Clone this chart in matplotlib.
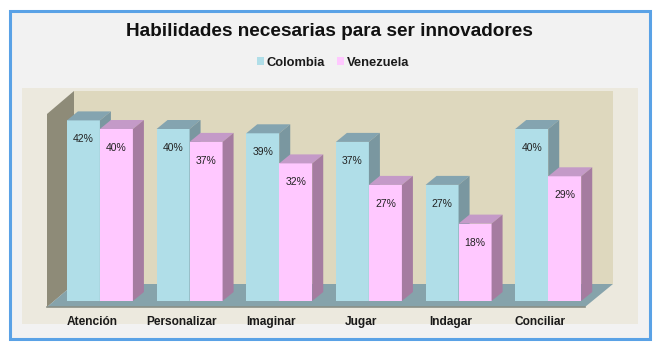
import matplotlib
matplotlib.use('Agg')
import matplotlib.pyplot as plt
from matplotlib.patches import Polygon, Rectangle

plt.rcParams['font.family'] = ['Liberation Sans', 'DejaVu Sans']

categorias = ['Atención', 'Personalizar', 'Imaginar', 'Jugar', 'Indagar', 'Conciliar']
colombia = [42, 40, 39, 37, 27, 40]
venezuela = [40, 37, 32, 27, 18, 29]

W, H = 661, 354
fig = plt.figure(figsize=(W / 100, H / 100), dpi=100, facecolor='white')

# fondo, paneles y paredes en pixeles de la imagen
bg = fig.add_axes([0, 0, 1, 1])
bg.set_xlim(0, W)
bg.set_ylim(H, 0)
bg.axis('off')
bg.add_patch(Rectangle((10, 11), 640, 328, fc='#F2F2F2', ec='#5AA2E6', lw=2.2))
bg.add_patch(Rectangle((22, 88), 616, 236, fc='#ECE9DE', ec='none'))
bg.add_patch(Rectangle((74, 91), 539, 193, fc='#DED8BE', ec='none'))
bg.add_patch(Polygon([(47, 114), (74, 91), (74, 284), (47, 307)], fc='#8E8B78', ec='none'))
bg.add_patch(Polygon([(47, 307), (585, 307), (613, 284), (74, 284)], fc='#86A3AB', ec='none'))
bg.plot([47, 585], [306.5, 306.5], color='#8A8F86', lw=1.2)

# ejes: 4.3 px por punto porcentual, base de las barras en y=301
ax = fig.add_axes([47 / W, (H - 301) / H, 538 / W, 187 / H])
ax.patch.set_alpha(0)
ax.set_xlim(-0.5, 5.5)
ax.set_ylim(0, 187 / 4.3)
for s in ax.spines.values():
    s.set_visible(False)
ax.set_yticks([])
ax.set_xticks(range(len(categorias)))
ax.set_xticklabels(categorias, fontsize=8.6, fontweight='bold', color='#1A1A1A')
ax.tick_params(axis='x', length=0, pad=11)

ancho = 33 / (538 / 6)
dx = 11 / (538 / 6)
dy = 9 / 4.3
desp = 0.09


def barra(x, v, front, top, side, etiqueta):
    r = ax.bar(x, v, ancho, color=front, label=etiqueta, zorder=3)[0]
    x0, x1 = r.get_x(), r.get_x() + r.get_width()
    ax.add_patch(Polygon([(x0, v), (x1, v), (x1 + dx, v + dy), (x0 + dx, v + dy)],
                         fc=top, ec='none', zorder=3, clip_on=False))
    ax.add_patch(Polygon([(x1, 0), (x1 + dx, dy), (x1 + dx, v + dy), (x1, v)],
                         fc=side, ec='none', zorder=3, clip_on=False))
    ax.annotate('%d%%' % v, (x, v), xytext=(0, -13.7), textcoords='offset points',
                ha='center', va='center', fontsize=7.5, color='#222222', zorder=5)


# se dibuja por grupo para que cada barra tape a la anterior
for i in range(len(categorias)):
    barra(i + desp - ancho / 2, colombia[i], '#B0DEE8', '#84A4B0', '#7A97A0',
          'Colombia' if i == 0 else None)
    barra(i + desp + ancho / 2, venezuela[i], '#FFC8FF', '#C49AC8', '#A57CA0',
          'Venezuela' if i == 0 else None)

fig.text(329.5 / W, 1 - 31 / H, 'Habilidades necesarias para ser innovadores',
         ha='center', va='center', fontsize=13.7, fontweight='bold', color='#111111')

fig.legend(loc='center', bbox_to_anchor=(333 / W, 1 - 62.5 / H), ncol=2, frameon=False,
           prop={'size': 9.3, 'weight': 'bold'}, handlelength=0.5, handleheight=0.5,
           handletextpad=0.2, columnspacing=1.0, labelcolor='#1A1A1A')

fig.savefig('out.png', dpi=100)
